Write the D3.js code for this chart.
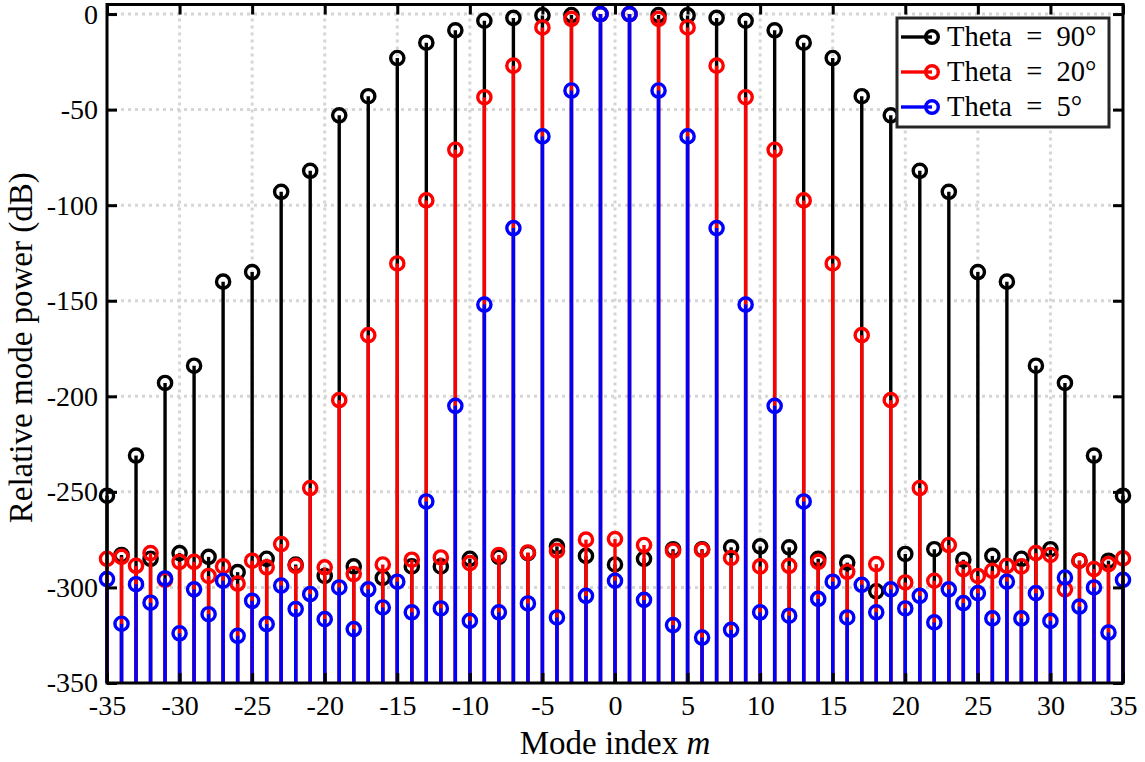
<!DOCTYPE html>
<html>
<head>
<meta charset="utf-8">
<script src="https://cdn.jsdelivr.net/npm/d3@7"></script>
<style>
  body { margin: 0; background: #fff; }
  svg text { font-family: "Liberation Serif", "Times New Roman", serif; fill: #000; }
</style>
</head>
<body>
<svg id="chart" width="1145" height="762"></svg>
<script>
// ---- data ----
const modes = d3.range(-35, 36);
const theta90 = [-252,-283,-231,-285,-193,-282,-184,-284,-140,-292,-135,-285,-93,-288,-82,-294,-53,-289,-43,-295,-23,-289,-15,-289,-8.5,-285,-3.5,-284,-2,-282,-0.7,-278.5,-0.5,-283.5,0,
  -288,
  0,-285,-0.5,-280,-0.7,-280,-2,-279,-3.5,-278.5,-8.5,-279,-15,-285,-23,-287,-43,-302,-53,-282.5,-82,-280,-93,-285.5,-135,-283.5,-140,-285,-184,-280,-193,-286,-231,-286,-252];
const theta20 = [-285,-284,-288.7,-282,-296,-286.6,-286.6,-294,-289,-298,-286,-289.5,-277.3,-288.7,-248,-289.5,-202,-293,-168,-288,-130.5,-285.5,-97.5,-284.3,-71,-287.3,-43.5,-283,-27,-281.7,-7,-280.8,-2.5,-275,0,
  -274.7,
  0,-277.8,-2.5,-280.8,-7,-280.4,-27,-284.6,-43.5,-289,-71,-288.7,-97.5,-286.6,-130.5,-291.8,-168,-287.8,-202,-297.4,-248,-296.5,-277.8,-290.4,-294,-291.3,-288.7,-289,-282,-283,-301,-286,-290.4,-287.8,-284.8];
const theta5 = [-295.6,-319,-298.3,-308,-295.3,-324,-301,-314,-296.5,-325.3,-307,-319.2,-299,-311.3,-303.5,-316.6,-300,-321.8,-301,-310.5,-297,-313,-255,-311,-205,-317.5,-152,-313,-112,-308.4,-64,-315.7,-40,-304.4,0,
  -296.5,
  0,-306.5,-40,-319.7,-64,-326.2,-112,-322.2,-152,-313,-205,-314.8,-255,-306,-297,-315.7,-298.6,-313,-301,-311,-304.4,-318.3,-301,-308.2,-303,-316.2,-297,-316.2,-303,-317.5,-294.8,-310,-300,-323.6,-296];
const seriesNames = ["Theta = 90°", "Theta = 20°", "Theta = 5°"];
const seriesColors = ["#000000", "#ff0000", "#0000ff"];
const xTicks = d3.range(-35, 36, 5);
const yTicks = d3.range(-350, 1, 50);

// ---- layout ----
const svg = d3.select("#chart");
const L = 107, R = 1123, T = 4.5, B = 683;
const x = d3.scaleLinear().domain([-35, 35]).range([L, R]);
const y = d3.scaleLinear().domain([-350, 5]).range([B, T]);
const baseValue = -350;

// grid
const grid = svg.append("g");
grid.selectAll("line.gx").data(xTicks.slice(1, -1)).join("line")
  .attr("x1", d => x(d)).attr("x2", d => x(d)).attr("y1", T).attr("y2", B)
  .attr("stroke", "#d6d6d6").attr("stroke-width", 3).attr("stroke-dasharray", "3,4");
grid.selectAll("line.gy").data(yTicks.slice(1)).join("line")
  .attr("y1", d => y(d)).attr("y2", d => y(d)).attr("x1", L).attr("x2", R)
  .attr("stroke", "#d6d6d6").attr("stroke-width", 3).attr("stroke-dasharray", "3,4");

// stems
const allSeries = [theta90, theta20, theta5];
allSeries.forEach((vals, i) => {
  const g = svg.append("g");
  const data = modes.map((m, k) => ({ m, v: vals[k] }));
  g.selectAll("line").data(data).join("line")
    .attr("x1", d => x(d.m)).attr("x2", d => x(d.m))
    .attr("y1", y(baseValue)).attr("y2", d => y(d.v))
    .attr("stroke", seriesColors[i]).attr("stroke-width", 3.4);
  g.selectAll("circle").data(data).join("circle")
    .attr("cx", d => x(d.m)).attr("cy", d => y(d.v)).attr("r", 6.6)
    .attr("fill", "none").attr("stroke", seriesColors[i]).attr("stroke-width", 3.4);
});

// axes
const fmt = d => String(d);
const axB = svg.append("g").attr("transform", `translate(0,${B})`)
  .call(d3.axisBottom(x).tickValues(xTicks).tickFormat(fmt).tickSizeInner(-10).tickSizeOuter(0).tickPadding(12));
const axT = svg.append("g").attr("transform", `translate(0,${T})`)
  .call(d3.axisTop(x).tickValues(xTicks).tickFormat("").tickSizeInner(-10).tickSizeOuter(0));
const axL = svg.append("g").attr("transform", `translate(${L},0)`)
  .call(d3.axisLeft(y).tickValues(yTicks).tickFormat(fmt).tickSizeInner(-10).tickSizeOuter(0).tickPadding(9));
const axRt = svg.append("g").attr("transform", `translate(${R},0)`)
  .call(d3.axisRight(y).tickValues(yTicks).tickFormat("").tickSizeInner(-10).tickSizeOuter(0));
[axB, axT, axL, axRt].forEach(a => {
  a.select(".domain").remove();
  a.selectAll(".tick line").attr("stroke", "#000").attr("stroke-width", 3);
  a.selectAll(".tick text").attr("font-size", 28).attr("fill", "#000");
});
svg.append("rect").attr("x", L).attr("y", T).attr("width", R - L).attr("height", B - T)
  .attr("fill", "none").attr("stroke", "#000").attr("stroke-width", 3);

// axis labels
const xl = svg.append("text").attr("x", x(0)).attr("y", 754).attr("text-anchor", "middle")
  .attr("font-size", 33);
xl.append("tspan").text("Mode index ");
xl.append("tspan").attr("font-style", "italic").text("m");
svg.append("text").attr("transform", `translate(32,${(T + B) / 2 + 4}) rotate(-90)`)
  .attr("text-anchor", "middle").attr("font-size", 33).text("Relative mode power (dB)");

// legend
const lg = svg.append("g");
lg.append("rect").attr("x", 897).attr("y", 18).attr("width", 212).attr("height", 109)
  .attr("fill", "#fff").attr("stroke", "#262626").attr("stroke-width", 3);
seriesNames.forEach((name, i) => {
  const cy = 37 + i * 35;
  lg.append("line").attr("x1", 901).attr("x2", 932).attr("y1", cy).attr("y2", cy)
    .attr("stroke", seriesColors[i]).attr("stroke-width", 3.4);
  lg.append("circle").attr("cx", 932).attr("cy", cy).attr("r", 6.3)
    .attr("fill", "none").attr("stroke", seriesColors[i]).attr("stroke-width", 3.4);
  lg.append("text").attr("x", 947).attr("y", cy + 9).attr("font-size", 28.5)
    .text(name.replace(" = ", "\u2002=\u2002"));
});
</script>
</body>
</html>
